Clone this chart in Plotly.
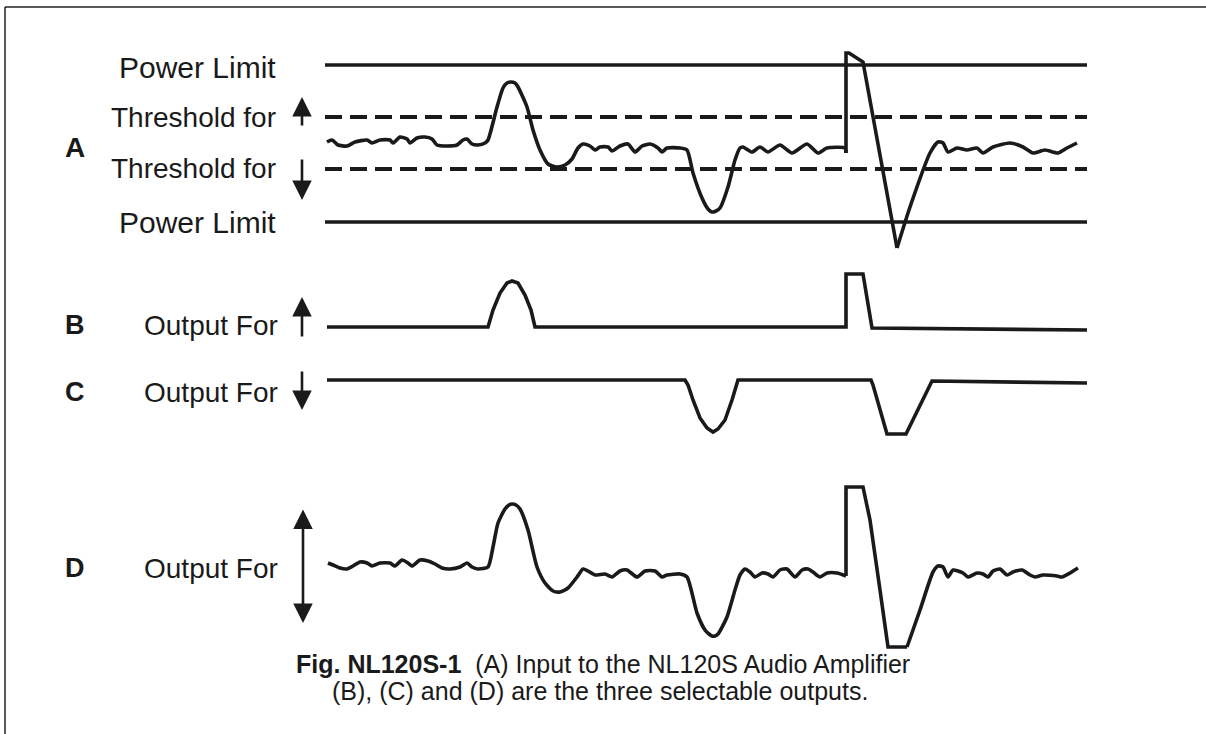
import plotly.graph_objects as go

# ---------------- data (time t, level) ----------------
# Panel A: input signal
a_t = [2, 7, 13, 22, 30, 42, 47, 55, 65, 68, 75, 82, 85, 92, 100, 107, 112, 122, 132, 138, 142, 147, 153,
       160, 163, 172, 178, 182, 186, 190, 193, 202, 208, 215, 223, 232, 240, 247, 253, 258, 265, 270, 275,
       283, 287, 295, 303, 310, 317, 325, 333, 337, 342, 355, 362, 368, 377, 383, 387, 391, 395, 403, 410,
       415, 418, 427, 435, 443, 455, 467, 482, 493, 502, 520, 521, 521, 524, 532, 538, 572, 585, 605, 613,
       618, 623, 632, 642, 652, 658, 668, 685, 698, 708, 720, 733, 742, 752]
a_v = [1, 3, -2, -3, 1, 3, 0, 3, 3, 0, 6, 4, 0, 5, 6, 4, -2, -3, -2, 3, 4, -1, -2,
       0, 3, 36, 55, 60, 61, 60, 56, 36, 13, -7, -21, -24, -22, -16, -5, -1, -3, -7, -4,
       -4, -8, -3, -1, -9, -3, -1, -5, -9, -5, -5, -7, -30, -55, -66, -69, -68, -65, -44, -17,
       -5, -4, -9, -4, -9, -2, -10, -1, -10, -5, -5, -10, 90, 90, 85, 81, -105, -64, -10, 1,
       0, -9, -5, -7, -5, -10, -4, 0, -4, -10, -7, -10, -5, 0]

limit_t = [0, 762]
power_limit_hi = 78
power_limit_lo = -79
threshold_up = 26
threshold_dn = -26

# Panel B: output for positive excursions
b_t = [2, 163, 168, 175, 182, 187, 193, 200, 206, 210, 521, 521, 538, 547, 762]
b_v = [0, 0, 17, 34, 44, 46, 44, 32, 17, 0, 0, 53, 53, -1, -3]

# Panel C: output for negative excursions
c_t = [2, 360, 363, 368, 375, 382, 388, 393, 400, 407, 413, 546, 548, 562, 581, 607, 762]
c_v = [0, 0, -5, -20, -38, -48, -52, -49, -40, -20, 0, 0, -5, -54, -54, -1, -3]

# Panel D: output for both (clipped at power limit)
d_t = [3, 8, 15, 22, 28, 35, 42, 47, 55, 65, 70, 77, 83, 87, 95, 103, 110, 117, 125, 135, 142, 147, 153,
       163, 168, 173, 180, 184, 187, 191, 195, 203, 212, 220, 228, 235, 243, 252, 258, 263, 270, 280, 287,
       295, 302, 312, 320, 330, 337, 342, 355, 362, 372, 380, 384, 387, 390, 393, 402, 410, 415, 420, 425,
       430, 437, 443, 448, 455, 462, 470, 477, 483, 488, 495, 502, 512, 521, 521, 538, 545, 555, 563, 582,
       595, 608, 613, 618, 623, 628, 638, 643, 652, 658, 663, 668, 675, 682, 688, 697, 705, 710, 718, 732,
       737, 745, 753]
d_v = [4, 2, -1, -2, 1, 5, 4, 1, 4, 4, 1, 7, 4, 1, 7, 6, 3, -1, -2, 0, 4, 0, -2,
       0, 20, 44, 58, 62, 63, 62, 58, 37, 0, -16, -24, -25, -21, -10, -2, -4, -8, -7, -10,
       -4, -3, -10, -4, -4, -10, -8, -7, -10, -46, -63, -67, -69, -69, -67, -50, -23, -8, -2, -5,
       -10, -6, -7, -10, -3, -2, -10, -3, -2, -5, -10, -6, -6, -9, 80, 80, 47, -23, -80, -80,
       -43, -5, 1, 0, -10, -3, -6, -10, -6, -7, -10, -4, -2, -8, -5, -3, -8, -10, -8, -9,
       -10, -6, -1]

label_font = "Liberation Sans, Arial, sans-serif"
ink = "#1a1a1a"
W = 3.6

fig = go.Figure()

def line(x, y, yaxis, dash=None, width=W, shape="linear"):
    fig.add_trace(go.Scatter(x=x, y=y, mode="lines", yaxis=yaxis, hoverinfo="skip",
                             line=dict(color=ink, width=width, dash=dash, shape=shape, smoothing=0.6)))

def split_at_step(t, v):
    # index of the vertical step (two equal consecutive times)
    k = next(i for i in range(len(t) - 1) if t[i] == t[i + 1])
    # index of the lowest point after the step
    m = min(range(k, len(v)), key=lambda i: v[i])
    m_end = m
    while m_end + 1 < len(v) and v[m_end + 1] == v[m]:
        m_end += 1
    return k, m_end

def signal(t, v, yaxis):
    k, m = split_at_step(t, v)
    line(t[:k + 1], v[:k + 1], yaxis, shape="spline")
    line(t[k:m + 1], v[k:m + 1], yaxis)
    line(t[m:], v[m:], yaxis, shape="spline")

# Panel A
line(limit_t, [power_limit_hi] * 2, "y")
line(limit_t, [power_limit_lo] * 2, "y")
line(limit_t, [threshold_up] * 2, "y", dash="17px,8px", width=3.8)
line(limit_t, [threshold_dn] * 2, "y", dash="17px,8px", width=3.8)
signal(a_t, a_v, "y")
# Panels B, C, D
line(b_t, b_v, "y2")
line(c_t, c_v, "y3")
signal(d_t, d_v, "y4")

ann = []
def text(x, y, yref, s, anchor="right", size=28, bold=False):
    ann.append(dict(x=x, y=y, xref="x", yref=yref, text=("<b>%s</b>" % s) if bold else s,
                    showarrow=False, xanchor=anchor, yanchor="middle",
                    font=dict(family=label_font, size=size, color=ink)))

def arrow(x, y0, y1, yref, both=False):
    ann.append(dict(x=x, y=y1, ax=x, ay=y0, xref="x", yref=yref, axref="x", ayref=yref,
                    text="", showarrow=True, arrowhead=2, arrowsize=1.5, arrowwidth=2.6,
                    arrowcolor=ink, arrowside="end+start" if both else "end",
                    startarrowhead=2, startarrowsize=1.5))

text(-47, 76, "y", "Power Limit", size=30)
text(-47, 26, "y", "Threshold for")
text(-47, -25, "y", "Threshold for")
text(-47, -79, "y", "Power Limit", size=30)
text(-262, -4, "y", "A", anchor="left", size=28, bold=True)
arrow(-23, 16, 46, "y")
arrow(-23, -15, -57, "y")

text(-262, 2, "y2", "B", anchor="left", size=27, bold=True)
text(-45, 2, "y2", "Output For")
arrow(-23, -11, 30, "y2")

text(-262, -12, "y3", "C", anchor="left", size=27, bold=True)
text(-45, -12, "y3", "Output For")
arrow(-23, 10, -30, "y3")

text(-262, -1, "y4", "D", anchor="left", size=27, bold=True)
text(-45, -1, "y4", "Output For")
arrow(-22, 59, -56, "y4", both=True)

caption_font = dict(family=label_font, size=25, color=ink)
ann.append(dict(x=603 / 1206, y=1 - 664 / 734, xref="paper", yref="paper", showarrow=False,
                xanchor="center", yanchor="middle",
                text="<b>Fig. NL120S-1</b>\u00a0\u00a0(A) Input to the NL120S Audio Amplifier",
                font=caption_font))
ann.append(dict(x=600 / 1206, y=1 - 691 / 734, xref="paper", yref="paper", showarrow=False,
                xanchor="center", yanchor="middle",
                text="(B), (C) and (D) are the three selectable outputs.",
                font=caption_font))

shapes = [
    dict(type="line", xref="paper", yref="paper", x0=5 / 1206, x1=1, y0=1 - 7 / 734, y1=1 - 7 / 734,
         line=dict(color="#222", width=1.5)),
    dict(type="line", xref="paper", yref="paper", x0=5 / 1206, x1=5 / 1206, y0=0, y1=1 - 7 / 734,
         line=dict(color="#222", width=1.5)),
]

hidden = dict(visible=False, fixedrange=True)
fig.update_layout(
    width=1206, height=734, margin=dict(l=0, r=0, t=0, b=0),
    paper_bgcolor="white", plot_bgcolor="white", showlegend=False,
    xaxis=dict(range=[-325, 881], **hidden),
    yaxis=dict(range=[-591, 143], domain=[0, 1], **hidden),
    yaxis2=dict(range=[-407, 327], overlaying="y", **hidden),
    yaxis3=dict(range=[-354, 380], overlaying="y", **hidden),
    yaxis4=dict(range=[-167, 567], overlaying="y", **hidden),
    annotations=ann, shapes=shapes,
)

fig.write_html("out.html", config={"displayModeBar": False},
               post_script="document.body.style.margin='0';document.body.style.overflow='hidden';")
